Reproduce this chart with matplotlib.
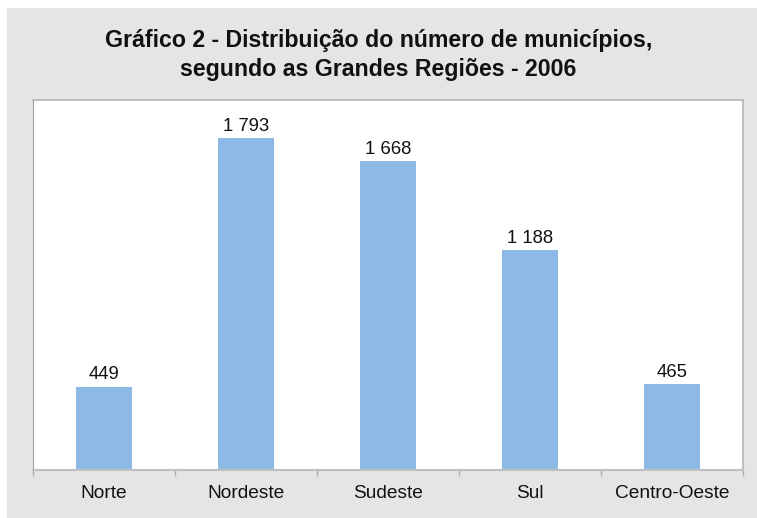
import numpy as np
import matplotlib.pyplot as plt
from matplotlib.patches import Rectangle

regioes = ["Norte", "Nordeste", "Sudeste", "Sul", "Centro-Oeste"]
municipios = [449, 1793, 1668, 1188, 465]
rotulos = ["449", "1 793", "1 668", "1 188", "465"]

titulo = "Gráfico 2 - Distribuição do número de municípios,\nsegundo as Grandes Regiões - 2006"

cor_barra = "#8dbae5"
cor_fundo = "#e4e5e6"

fig = plt.figure(figsize=(7.57, 5.18), dpi=100)
fig.patch.set_facecolor("white")
# painel cinza atrás do gráfico
fig.patches.append(Rectangle((7 / 757, 0), 1, 1 - 8 / 518, transform=fig.transFigure,
                             facecolor=cor_fundo, edgecolor="none", zorder=-1))

ax = fig.add_axes([33 / 757, 48 / 518, 710 / 757, 370 / 518])
ax.set_zorder(1)
ax.set_facecolor("white")

x = np.arange(len(regioes))
barras = ax.bar(x, municipios, width=0.4, color=cor_barra, zorder=2)
for b, txt in zip(barras, rotulos):
    ax.annotate(txt, (b.get_x() + b.get_width() / 2, b.get_height()),
                xytext=(0, 2.5), textcoords="offset points", ha="center", va="bottom",
                fontsize=13.3, family="Liberation Sans", color="#111111")

ax.set_xlim(-0.5, len(regioes) - 0.5)
ax.set_ylim(0, 2000)
ax.set_yticks([])

ax.set_xticks(x)
ax.set_xticklabels(regioes, fontsize=13.8, family="Liberation Sans", color="#111111")
ax.tick_params(axis="x", which="major", length=0, pad=11)
ax.set_xticks(np.arange(-0.5, len(regioes)), minor=True)
ax.tick_params(axis="x", which="minor", length=4, width=1, color="#b0b0b0")

for lado in ["top", "right"]:
    ax.spines[lado].set_color("#b4b4b4")
    ax.spines[lado].set_linewidth(1.2)
ax.spines["left"].set_color("#a0a0a0")
ax.spines["bottom"].set_color("#c0c0c0")
ax.spines["bottom"].set_linewidth(1.5)

fig.text(0.5, 1 - 55 / 518, titulo, ha="center", va="center",
         fontsize=16.7, fontweight="bold", linespacing=1.35,
         family="Liberation Sans", color="#111111")

fig.savefig("out.png", dpi=100, facecolor=fig.get_facecolor())
